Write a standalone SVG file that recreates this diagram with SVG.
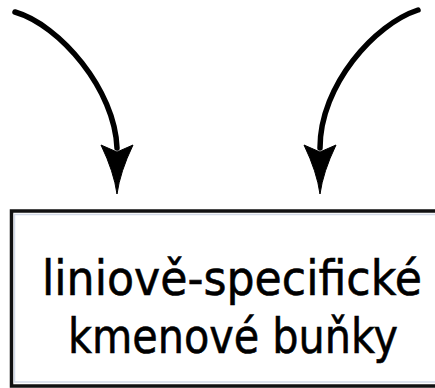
<svg xmlns="http://www.w3.org/2000/svg" width="435" height="388" viewBox="0 0 435 388">
  <style>
    .conn { fill: none; stroke: #000; stroke-width: 5.5; stroke-linecap: round; }
    .head { fill: #000; stroke: #000; stroke-width: 1; stroke-linejoin: miter; }
    .box { fill: #fff; stroke: #111; stroke-width: 3.5; }
    .inner { fill: none; stroke: #d3dae8; stroke-width: 1.5; }
    .lbl { font-family: "DejaVu Sans", "Noto Sans", sans-serif; font-size: 48px; fill: #000; stroke: #000; stroke-width: 0.6; text-anchor: middle; }
  </style>
  <defs>
    <path id="arrowhead" d="M0,0 Q-3,-22 -16,-49 L0,-42 L16,-49 Q3,-22 0,0 Z"/>
  </defs>
  <rect width="435" height="388" fill="#fff"/>
  <g id="connectors">
    <path class="conn" d="M15,12 C60,25 115,90 117,148"/>
    <use href="#arrowhead" class="head" transform="translate(117,194)"/>
    <path class="conn" d="M418,10 C375,24 320,85 320,148"/>
    <use href="#arrowhead" class="head" transform="translate(320,194)"/>
  </g>
  <g id="node-stem-cells">
    <rect class="box" x="11.5" y="211" width="440" height="175"/>
    <rect class="inner" x="14.5" y="214.5" width="434" height="167.5"/>
    <text class="lbl" x="232" y="295" textLength="380" lengthAdjust="spacingAndGlyphs">liniově-specifické</text>
    <text class="lbl" x="233" y="353" textLength="330" lengthAdjust="spacingAndGlyphs">kmenové buňky</text>
  </g>
</svg>
